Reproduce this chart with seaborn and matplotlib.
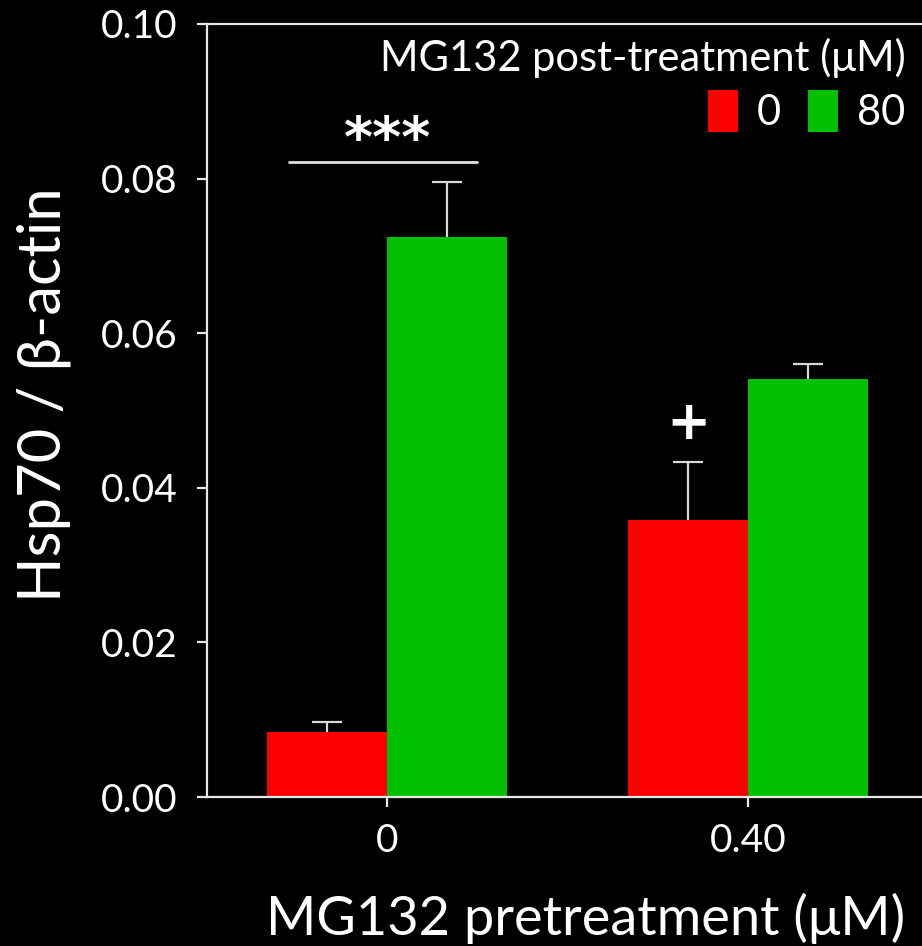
import pandas as pd
import numpy as np
import matplotlib
matplotlib.use('Agg')
import matplotlib.pyplot as plt
import seaborn as sns

# data
pretreatment = ['0', '0.40']
post_levels = ['0', '80']
hsp70_post0 = [0.0084, 0.0358]
hsp70_post80 = [0.0725, 0.0541]
sd_post0 = [0.0013, 0.0076]
sd_post80 = [0.0070, 0.0019]
colors = ['#FF0000', '#00C000']

# significance marks (x in category units, y in data units)
sig_line_x = [-0.274, 0.249]
sig_line_y = 0.0822
sig_star_pos = (0.0, 0.0849)
plus_pos = (0.834, 0.0483)

df = pd.DataFrame({
    'pre': pretreatment * 2,
    'post': [post_levels[0]] * 2 + [post_levels[1]] * 2,
    'val': hsp70_post0 + hsp70_post80,
    'sd': sd_post0 + sd_post80,
})

sns.set_style('dark')
plt.rcParams['font.family'] = ['Lato', 'DejaVu Sans']
fg = 'white'

fig = plt.figure(figsize=(9.22, 9.46), dpi=100, facecolor='black')
ax = fig.add_axes([207 / 922, 149 / 946, 1 - 207 / 922, (797 - 24) / 946])
ax.set_facecolor('black')

sns.barplot(data=df, x='pre', y='val', hue='post', order=pretreatment,
            hue_order=post_levels, palette=colors, width=0.665, gap=0,
            errorbar=None, saturation=1, linewidth=0, ax=ax)

# error bars drawn behind the bars, so only the upper half shows
for cont, lvl in zip(ax.containers, post_levels):
    sds = df[df['post'] == lvl].set_index('pre').loc[pretreatment, 'sd'].values
    xs = [b.get_x() + b.get_width() / 2 for b in cont]
    hs = [b.get_height() for b in cont]
    ax.errorbar(xs, hs, yerr=sds, fmt='none', ecolor='#D8D8D8',
                elinewidth=1.6, capsize=11, capthick=1.6, zorder=0.5)

ax.plot(sig_line_x, [sig_line_y, sig_line_y], color='#E0E0E0', lw=2)
ax.text(*sig_star_pos, '***', color=fg, fontsize=40, fontweight='bold',
        family='DejaVu Sans', ha='center', va='center')
ax.text(*plus_pos, '+', color=fg, fontsize=38, fontweight='bold',
        family='DejaVu Sans', ha='center', va='center')

ax.set_ylim(0, 0.10)
ax.set_xlim(-0.5, 1.482)
ax.set_yticks([0, 0.02, 0.04, 0.06, 0.08, 0.10])
ax.set_yticklabels(['0.00', '0.02', '0.04', '0.06', '0.08', '0.10'])
ax.grid(False)

for s in ['left', 'bottom', 'top']:
    ax.spines[s].set_visible(True)
    ax.spines[s].set_color('#E8E8E8')
    ax.spines[s].set_linewidth(1.6)
ax.spines['right'].set_visible(False)

ax.tick_params(axis='both', colors='#E8E8E8', labelcolor=fg, labelsize=28,
               length=7, width=1.6, direction='out', left=True, bottom=True)
ax.tick_params(axis='x', pad=12)
ax.tick_params(axis='y', pad=14)

ax.set_xlabel('MG132 pretreatment (μM)', color=fg, fontsize=39)
ax.set_ylabel('Hsp70 / β-actin', color=fg, fontsize=43)
ax.xaxis.set_label_coords(0.529, -0.124)
ax.yaxis.set_label_coords(-0.19, 0.52)

handles, labels = ax.get_legend_handles_labels()
leg = ax.legend(handles, labels, title='MG132 post-treatment (μM)', ncol=2,
                loc='upper right', bbox_to_anchor=(1.0, 1.004), frameon=False,
                fontsize=30, title_fontsize=30, handlelength=0.72,
                handleheight=1.15, handletextpad=0.45, columnspacing=0.67,
                labelspacing=0.3, borderpad=0.2, borderaxespad=0.2,
                alignment='right', labelcolor=fg)
leg.get_title().set_color(fg)

fig.savefig('out.png', dpi=100, facecolor='black')
